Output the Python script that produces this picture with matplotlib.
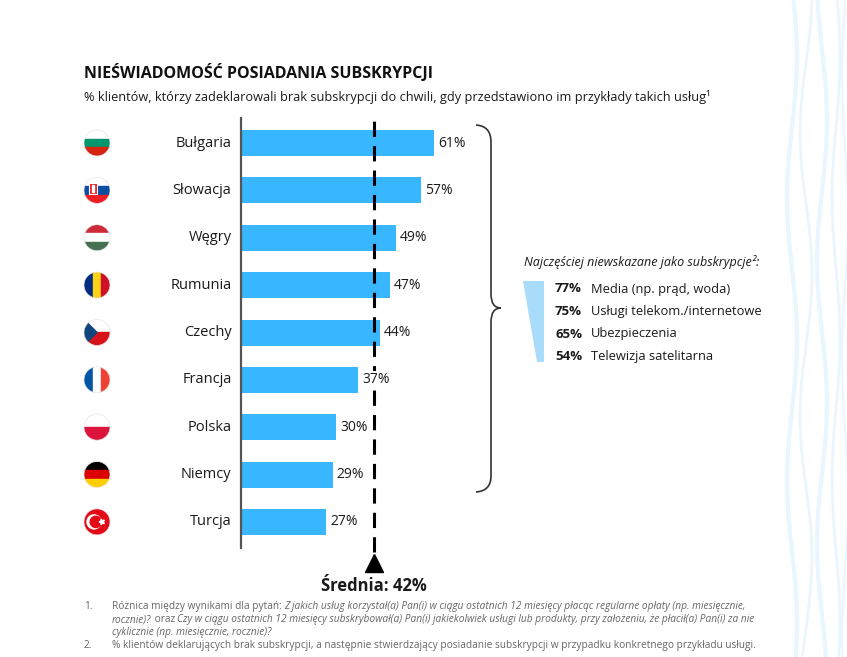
import numpy as np
import matplotlib
matplotlib.use("Agg")
import matplotlib.pyplot as plt
from matplotlib.patches import Circle, Rectangle, Polygon, PathPatch
from matplotlib.path import Path

plt.rcParams['font.family'] = ['Open Sans', 'DejaVu Sans']

countries = ["Bułgaria", "Słowacja", "Węgry", "Rumunia", "Czechy",
             "Francja", "Polska", "Niemcy", "Turcja"]
values = [61, 57, 49, 47, 44, 37, 30, 29, 27]
average = 42

services_pct = ["77%", "75%", "65%", "54%"]
services = ["Media (np. prąd, woda)", "Usługi telekom./internetowe",
            "Ubezpieczenia", "Telewizja satelitarna"]

TITLE = "NIEŚWIADOMOŚĆ POSIADANIA SUBSKRYPCJI"
SUBTITLE = "% klientów, którzy zadeklarowali brak subskrypcji do chwili, gdy przedstawiono im przykłady takich usług¹"

BAR_COLOR = "#38b6ff"
WEDGE_COLOR = "#a9dcfb"
TEXT_COLOR = "#1a1a1a"
NOTE_COLOR = "#666666"

W, H = 847, 657

fig = plt.figure(figsize=(W / 100, H / 100), dpi=100)

# overlay in pixel coordinates for decorations and free text
over = fig.add_axes([0, 0, 1, 1])
over.set_xlim(0, W)
over.set_ylim(H, 0)
over.axis("off")


def px_axes(x0, y0, x1, y1):
    # axes from pixel box (top-left origin)
    return fig.add_axes([x0 / W, 1 - y1 / H, (x1 - x0) / W, (y1 - y0) / H])


# --- bars ---
ax = px_axes(241, 118, 241 + 316, 548)
ax.set_xlim(0, 100)
ax.set_ylim(8.55, -0.53)
ax.patch.set_alpha(0)
ypos = np.arange(len(countries))
ax.barh(ypos, values, height=0.55, color=BAR_COLOR, zorder=2)
for y, v in zip(ypos, values):
    ax.text(v + 1.3, y, f"{v}%", va="center", ha="left", fontsize=10,
            color=TEXT_COLOR, zorder=5,
            bbox=dict(fc="white", ec="none", pad=1.0))
for s in ["top", "right", "bottom"]:
    ax.spines[s].set_visible(False)
ax.spines["left"].set_color("#555555")
ax.spines["left"].set_linewidth(1.6)
ax.set_xticks([])
ax.set_yticks([])
ax.axvline(average, ymin=-0.01, ymax=1.0, color="black", lw=2.2,
           dashes=(5, 3), zorder=3, clip_on=False)
ax.plot([average], [8.87], marker="^", color="black", markersize=13,
        clip_on=False, zorder=3)
ax.text(average, 9.35, f"Średnia: {average}%", ha="center", va="center",
        fontsize=12, fontweight="bold", color=TEXT_COLOR, clip_on=False)

# country labels
for y, name in zip(ypos, countries):
    ax.text(-3.0, y, name, ha="right", va="center", fontsize=10.5,
            color=TEXT_COLOR, clip_on=False)


# --- flags ---
def flag(cx, cy, kind, r=13):
    clip = Circle((cx, cy), r, transform=over.transData)
    arts = []

    def stripes_h(cols):
        n = len(cols)
        for k, c in enumerate(cols):
            arts.append(Rectangle((cx - r, cy - r + 2 * r * k / n), 2 * r,
                                  2 * r / n + 0.3, color=c))

    def stripes_v(cols):
        n = len(cols)
        for k, c in enumerate(cols):
            arts.append(Rectangle((cx - r + 2 * r * k / n, cy - r),
                                  2 * r / n + 0.3, 2 * r, color=c))

    if kind == "BG":
        stripes_h(["#ffffff", "#00966e", "#d62612"])
    elif kind == "SK":
        stripes_h(["#ffffff", "#0b4ea2", "#ee1c25"])
        arts.append(Rectangle((cx - 8, cy - 7), 8, 11, color="#ee1c25",
                              ec="white", lw=0.8))
        arts.append(Rectangle((cx - 5, cy - 5), 2, 7, color="white"))
    elif kind == "HU":
        stripes_h(["#ce2939", "#ffffff", "#477050"])
    elif kind == "RO":
        stripes_v(["#002b7f", "#fcd116", "#ce1126"])
    elif kind == "CZ":
        stripes_h(["#ffffff", "#d7141a"])
        arts.append(Polygon([(cx - r, cy - r), (cx, cy), (cx - r, cy + r)],
                            closed=True, color="#11457e"))
    elif kind == "FR":
        stripes_v(["#0055a4", "#ffffff", "#ef4135"])
    elif kind == "PL":
        stripes_h(["#ffffff", "#dc143c"])
    elif kind == "DE":
        stripes_h(["#000000", "#dd0000", "#ffce00"])
    elif kind == "TR":
        arts.append(Circle((cx, cy), r, color="#e30a17"))
        arts.append(Circle((cx - 3, cy), 7, color="white"))
        arts.append(Circle((cx - 1.2, cy), 5.6, color="#e30a17"))
        arts.append(Polygon(
            [(cx + 5 + 3 * np.cos(a), cy + 3 * np.sin(a)) if k % 2 == 0 else
             (cx + 5 + 1.2 * np.cos(a), cy + 1.2 * np.sin(a))
             for k, a in enumerate(np.linspace(np.pi, 3 * np.pi, 11)[:-1])],
            closed=True, color="white"))
    for a in arts:
        over.add_patch(a)
        a.set_clip_path(clip)
    over.add_patch(Circle((cx, cy), r, fill=False, ec="#e6e6e6", lw=0.5))


flag_codes = ["BG", "SK", "HU", "RO", "CZ", "FR", "PL", "DE", "TR"]
for i, code in enumerate(flag_codes):
    flag(97, 143 + 47.36 * i, code)

# --- brace ---
brace = Path([(476, 125), (491, 126), (491, 142),
              (491, 294),
              (491, 308), (501, 308),
              (491, 308), (491, 322),
              (491, 476),
              (491, 491), (476, 492)],
             [Path.MOVETO, Path.CURVE3, Path.CURVE3,
              Path.LINETO,
              Path.CURVE3, Path.CURVE3,
              Path.CURVE3, Path.CURVE3,
              Path.LINETO,
              Path.CURVE3, Path.CURVE3])
over.add_patch(PathPatch(brace, fill=False, ec="#333333", lw=1.2))

# --- side list ---
over.text(524, 262, "Najczęściej niewskazane jako subskrypcje²:", style="italic",
          fontsize=9, ha="left", va="center", color=TEXT_COLOR)
over.add_patch(Polygon([(523, 281), (544, 281), (544, 362), (537, 362)],
                       closed=True, color=WEDGE_COLOR, lw=0))
for k, (p, s) in enumerate(zip(services_pct, services)):
    yy = 289 + 22.5 * k
    over.text(555, yy, p, fontsize=9.5, fontweight="bold", ha="left",
              va="center", color=TEXT_COLOR)
    over.text(591, yy, s, fontsize=9.3, ha="left", va="center",
              color=TEXT_COLOR)

# --- decorative waves on the right ---
wave_x = [792, 806, 822, 836, 845]
wave_amp = [5, 6, 5, 4, 3]
wave_lw = [3, 2, 3, 2, 1.5]
yy = np.linspace(0, H, 200)
for x0, a, lw_ in zip(wave_x, wave_amp, wave_lw):
    over.plot(x0 + a * np.sin(yy / 45 + x0), yy, color="#dcf0fd", lw=lw_,
              alpha=0.6, zorder=0)

# --- titles ---
over.text(84, 73, TITLE, fontsize=11.5, fontweight="bold", ha="left",
          va="center", color="#111111")
over.text(84, 97, SUBTITLE, fontsize=9.2, ha="left", va="center",
          color=TEXT_COLOR)

# --- footnotes ---
renderer = fig.canvas.get_renderer()


def rich_line(x, y, segments, size=7.3):
    # segments drawn one after another on a common baseline
    for txt, style in segments:
        t = over.text(x, y, txt, fontsize=size, style=style, ha="left",
                      va="baseline", color=NOTE_COLOR)
        bb = t.get_window_extent(renderer=renderer)
        x = bb.x1


rich_line(84, 609, [("1.", "normal")])
rich_line(112, 609, [("Różnica między wynikami dla pytań: ", "normal"),
                     ("Z jakich usług korzystał(a) Pan(i) w ciągu ostatnich 12 miesięcy płacąc regularne opłaty (np. miesięcznie,", "italic")])
rich_line(112, 622, [("rocznie)?", "italic"), (" oraz ", "normal"),
                     ("Czy w ciągu ostatnich 12 miesięcy subskrybował(a) Pan(i) jakiekolwiek usługi lub produkty, przy założeniu, że płacił(a) Pan(i) za nie", "italic")])
rich_line(112, 635, [("cyklicznie (np. miesięcznie, rocznie)?", "italic")])
rich_line(84, 648, [("2.", "normal")])
rich_line(112, 648, [("% klientów deklarujących brak subskrypcji, a następnie stwierdzający posiadanie subskrypcji w przypadku konkretnego przykładu usługi.", "normal")])

fig.savefig("out.png", dpi=100)
